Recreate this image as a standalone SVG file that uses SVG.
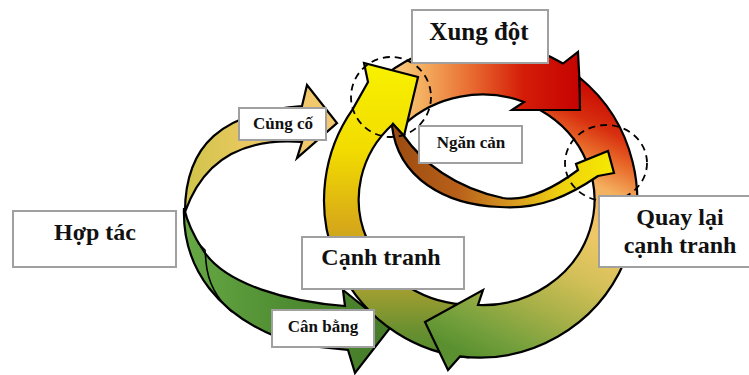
<svg xmlns="http://www.w3.org/2000/svg" width="749" height="375" viewBox="0 0 749 375">
<defs>
<linearGradient id="gYellow" gradientUnits="userSpaceOnUse" x1="0" y1="60" x2="0" y2="360">
<stop offset="0" stop-color="#f8f200"/><stop offset="0.3" stop-color="#f2dc00"/><stop offset="0.55" stop-color="#d8aa18"/><stop offset="0.75" stop-color="#a8a030"/><stop offset="0.9" stop-color="#6a9030"/><stop offset="1" stop-color="#4e8a2c"/>
</linearGradient>
<linearGradient id="gRed" gradientUnits="userSpaceOnUse" x1="380" y1="0" x2="585" y2="0">
<stop offset="0" stop-color="#f8d890"/><stop offset="0.2" stop-color="#f4b060"/><stop offset="0.45" stop-color="#e86a30"/><stop offset="0.7" stop-color="#d41c08"/><stop offset="1" stop-color="#c40000"/>
</linearGradient>
<linearGradient id="gRight" gradientUnits="userSpaceOnUse" x1="585" y1="80" x2="455" y2="350">
<stop offset="0" stop-color="#c80800"/><stop offset="0.12" stop-color="#d83010"/><stop offset="0.2" stop-color="#e86828"/><stop offset="0.3" stop-color="#f4b060"/><stop offset="0.45" stop-color="#eec868"/><stop offset="0.6" stop-color="#d4c058"/><stop offset="0.75" stop-color="#a8b048"/><stop offset="0.9" stop-color="#74a03c"/><stop offset="1" stop-color="#5a9030"/>
</linearGradient>
<linearGradient id="gCung" gradientUnits="userSpaceOnUse" x1="185" y1="0" x2="335" y2="0">
<stop offset="0" stop-color="#cfc44a"/><stop offset="0.4" stop-color="#e8c860"/><stop offset="1" stop-color="#f4c870"/>
</linearGradient>
<linearGradient id="gCan" gradientUnits="userSpaceOnUse" x1="185" y1="0" x2="390" y2="0">
<stop offset="0" stop-color="#66a844"/><stop offset="0.5" stop-color="#4f8c32"/><stop offset="1" stop-color="#467a28"/>
</linearGradient>
<linearGradient id="gNgan" gradientUnits="userSpaceOnUse" x1="390" y1="0" x2="615" y2="0">
<stop offset="0" stop-color="#9a4a10"/><stop offset="0.3" stop-color="#b8601a"/><stop offset="0.55" stop-color="#d89a20"/><stop offset="0.75" stop-color="#eed010"/><stop offset="1" stop-color="#f6ea00"/>
</linearGradient>
</defs>
<style>
.arr{stroke:#000;stroke-width:2.2;stroke-linejoin:miter}
.fold{fill:none;stroke:#000;stroke-width:1.6}
.dash{fill:none;stroke:#000;stroke-width:1.8;stroke-dasharray:7 5}
.box{fill:#fff;stroke:#a0a0a0;stroke-width:2}
.t{font-family:"Liberation Serif","Times New Roman",serif;font-weight:bold;fill:#111;text-anchor:middle}
.big{font-size:24px}
.sm{font-size:17px}
</style>
<g id="connectors">
<path id="arrow-xungdot" class="arr" fill="url(#gRed)" d="M364.6,94.3 A158,158 0 0 1 563,63.5 L578,52 L581,110 L512,110 L524,102 A112,105 0 0 0 404.2,124.5 Z"/>
<path id="arrow-cungco" class="arr" fill="url(#gCung)" d="M185,212 C185,145 222,112 302,106 L307,85 L337,123 L297,158 L302,142 C250,138 205,155 185,212 Z"/>
<path id="arrow-canbang" class="arr" fill="url(#gCan)" d="M184,208 C182,265 215,320 300,345 L348,350 L355,373 L390,328 L343,290 L345,306 C290,302 225,285 203,250 C195,238 188,225 184,208 Z"/>
<path class="fold" d="M198,243 L205,250 L206,262 C208,285 218,300 232,312"/>
<path id="arrow-canhtranh" class="arr" fill="url(#gYellow)" d="M468.2,357.4 A158,158 0 0 1 352.6,109.4 L368,82 L364,63 L418,77 L404,136 L393,124 A112,105 0 0 0 472.2,304.6 Z"/>
<path id="arrow-quaylai" class="arr" fill="url(#gRight)" d="M579.5,77.5 A158,158 0 0 1 460,356.4 L448,370 L425,322 L483,290 L478,305 A112,105 0 0 0 540,110 L580,110 Z"/>
<path id="arrow-ngancan" class="arr" fill="url(#gNgan)" d="M393,124 L404,136 C422,162 455,188 503,198 C530,202 558,185 578,170 L576,164 L608,151 L614,173 L598,176 C570,195 540,210 500,207 C445,205 398,178 392,126 Z"/>
<circle class="dash" cx="391" cy="97" r="40"/>
<ellipse class="dash" cx="606" cy="163" rx="41" ry="38"/>
</g>
<g id="node-xungdot"><rect class="box" x="412" y="10" width="136" height="53"/><text class="t" x="479" y="40" font-size="25">Xung đột</text></g>
<g id="node-cungco"><rect class="box" x="239" y="108" width="87" height="32"/><text class="t sm" x="283" y="129">Củng cố</text></g>
<g id="node-ngancan"><rect class="box" x="419" y="126" width="103" height="37"/><text class="t sm" x="471" y="148">Ngăn cản</text></g>
<g id="node-hoptac"><rect class="box" x="13" y="211" width="163" height="56"/><text class="t big" x="95" y="240">Hợp tác</text></g>
<g id="node-canhtranh"><rect class="box" x="302" y="237" width="162" height="52"/><text class="t big" x="381" y="265">Cạnh tranh</text></g>
<g id="node-canbang"><rect class="box" x="272" y="310" width="102" height="37"/><text class="t sm" x="323" y="332">Cân bằng</text></g>
<g id="node-quaylai"><rect class="box" x="599" y="196" width="152" height="71"/><text class="t big" x="680" y="225">Quay lại</text><text class="t big" x="680" y="253">cạnh tranh</text></g>
</svg>
